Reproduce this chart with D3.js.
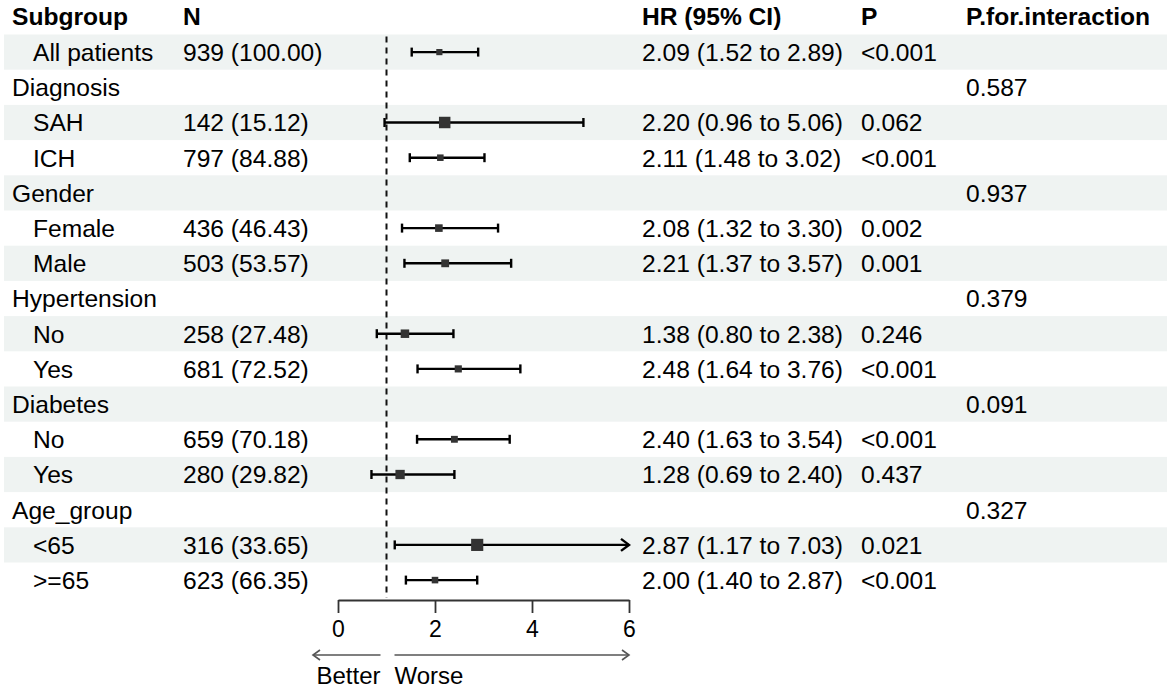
<!DOCTYPE html>
<html>
<head>
<meta charset="utf-8">
<script src="https://cdn.jsdelivr.net/npm/d3@7"></script>
<style>
  html, body { margin: 0; padding: 0; background: #fff; }
  svg { display: block; }
  text { font-family: "Liberation Sans", Arial, sans-serif; fill: #000; }
</style>
</head>
<body>
<svg id="chart" width="1170" height="688"></svg>
<script>
// ---- data ----
const headers = ["Subgroup", "N", "HR (95% CI)", "P", "P.for.interaction"];
const subgroups = ["All patients", "Diagnosis", "SAH", "ICH", "Gender", "Female", "Male",
  "Hypertension", "No", "Yes", "Diabetes", "No", "Yes", "Age_group", "<65", ">=65"];
const nLabels = ["939 (100.00)", "", "142 (15.12)", "797 (84.88)", "", "436 (46.43)", "503 (53.57)",
  "", "258 (27.48)", "681 (72.52)", "", "659 (70.18)", "280 (29.82)", "", "316 (33.65)", "623 (66.35)"];
const hr = [2.09, null, 2.20, 2.11, null, 2.08, 2.21, null, 1.38, 2.48, null, 2.40, 1.28, null, 2.87, 2.00];
const lo = [1.52, null, 0.96, 1.48, null, 1.32, 1.37, null, 0.80, 1.64, null, 1.63, 0.69, null, 1.17, 1.40];
const hi = [2.89, null, 5.06, 3.02, null, 3.30, 3.57, null, 2.38, 3.76, null, 3.54, 2.40, null, 7.03, 2.87];
const pValues = ["<0.001", "", "0.062", "<0.001", "", "0.002", "0.001", "", "0.246", "<0.001", "",
  "<0.001", "0.437", "", "0.021", "<0.001"];
const pInteraction = ["", "0.587", "", "", "0.937", "", "", "0.379", "", "", "0.091", "", "", "0.327", "", ""];
const xTicks = [0, 2, 4, 6];
const xDomain = [0, 6];
const refValue = 1;
const arrowLabels = ["Better", "Worse"];

// ---- layout ----
const FS = 24.6;
const svg = d3.select("#chart");
const rows = d3.range(subgroups.length);
const y = d3.scaleBand().domain(rows).range([34.5, 34.5 + 35.2 * rows.length]).paddingInner(0).paddingOuter(0);
const x = d3.scaleLinear().domain(xDomain).range([338, 629]);
const colX = { sub: 12, subIndent: 33, n: 183, hr: 642, p: 861, pint: 966 };
const baseline = cy => cy + 0.358 * FS;

// se-based box size
const se = rows.map(i => hr[i] == null ? null : (Math.log(hi[i]) - Math.log(lo[i])) / (2 * 1.96));
const boxSize = d3.scaleLinear().domain([0.18, 0.45]).range([6.5, 12]);

// background bands
svg.append("g").selectAll("rect").data(rows.filter(i => i % 2 === 0)).join("rect")
  .attr("x", 4).attr("width", 1163)
  .attr("y", i => y(i)).attr("height", y.bandwidth())
  .attr("fill", "#eff3f2");

// headers
const hdrX = [colX.sub, colX.n, colX.hr, colX.p, colX.pint];
svg.append("g").selectAll("text").data(headers).join("text")
  .attr("x", (d, i) => hdrX[i]).attr("y", baseline(16))
  .attr("font-size", FS).attr("font-weight", "bold").text(d => d);

// table text
const tg = svg.append("g").attr("font-size", FS);
rows.forEach(i => {
  const cy = y(i) + y.bandwidth() / 2;
  const by = baseline(cy);
  tg.append("text").attr("x", hr[i] == null ? colX.sub : colX.subIndent).attr("y", by).text(subgroups[i]);
  if (nLabels[i]) tg.append("text").attr("x", colX.n).attr("y", by).text(nLabels[i]);
  if (hr[i] != null) {
    tg.append("text").attr("x", colX.hr).attr("y", by)
      .text(`${hr[i].toFixed(2)} (${lo[i].toFixed(2)} to ${hi[i].toFixed(2)})`);
  }
  if (pValues[i]) tg.append("text").attr("x", colX.p).attr("y", by).text(pValues[i]);
  if (pInteraction[i]) tg.append("text").attr("x", colX.pint).attr("y", by).text(pInteraction[i]);
});

// reference dashed line
svg.append("line")
  .attr("x1", x(refValue)).attr("x2", x(refValue))
  .attr("y1", y(0) + 2).attr("y2", y(rows.length - 1) + y.bandwidth())
  .attr("stroke", "#111").attr("stroke-width", 2).attr("stroke-dasharray", "6,5");

// CIs
const cg = svg.append("g");
const LW = 2.4;
rows.filter(i => hr[i] != null).forEach(i => {
  const cy = y(i) + y.bandwidth() / 2;
  const x1 = x(Math.max(lo[i], xDomain[0]));
  const clipped = hi[i] > xDomain[1];
  const x2 = x(Math.min(hi[i], xDomain[1]));
  cg.append("line").attr("x1", x1).attr("x2", x2).attr("y1", cy).attr("y2", cy)
    .attr("stroke", "#000").attr("stroke-width", LW);
  cg.append("line").attr("x1", x1).attr("x2", x1).attr("y1", cy - 4.5).attr("y2", cy + 4.5)
    .attr("stroke", "#000").attr("stroke-width", LW);
  if (clipped) {
    cg.append("path").attr("d", `M${x2 - 8},${cy - 6}L${x2},${cy}L${x2 - 8},${cy + 6}`)
      .attr("fill", "none").attr("stroke", "#000").attr("stroke-width", LW);
  } else {
    cg.append("line").attr("x1", x2).attr("x2", x2).attr("y1", cy - 4.5).attr("y2", cy + 4.5)
      .attr("stroke", "#000").attr("stroke-width", LW);
  }
  const s = boxSize(se[i]);
  cg.append("rect").attr("x", x(hr[i]) - s / 2).attr("y", cy - s / 2)
    .attr("width", s).attr("height", s).attr("fill", "#333");
});

// x axis
const axisY = 600;
const ax = svg.append("g").attr("transform", `translate(0,${axisY})`)
  .call(d3.axisBottom(x).tickValues(xTicks).tickFormat(d3.format("d")).tickSize(13).tickSizeOuter(0).tickPadding(8));
ax.select(".domain").attr("stroke", "#333").attr("stroke-width", 1.8);
ax.selectAll(".tick line").attr("stroke", "#333").attr("stroke-width", 1.8);
ax.selectAll(".tick text").attr("font-size", 23).attr("font-family", "'Liberation Sans', Arial, sans-serif").attr("fill", "#000");

// direction arrows
const arrY = 655;
const ag = svg.append("g").attr("stroke", "#555").attr("stroke-width", 1.6).attr("fill", "none");
ag.append("line").attr("x1", 313).attr("x2", x(refValue) - 6).attr("y1", arrY).attr("y2", arrY);
ag.append("path").attr("d", `M${313 + 7},${arrY - 5}L313,${arrY}L${313 + 7},${arrY + 5}`);
ag.append("line").attr("x1", x(refValue) + 8).attr("x2", x(xDomain[1])).attr("y1", arrY).attr("y2", arrY);
ag.append("path").attr("d", `M${x(xDomain[1]) - 7},${arrY - 5}L${x(xDomain[1])},${arrY}L${x(xDomain[1]) - 7},${arrY + 5}`);
svg.append("text").attr("x", x(refValue) - 6).attr("y", 684).attr("text-anchor", "end")
  .attr("font-size", 24).text(arrowLabels[0]);
svg.append("text").attr("x", x(refValue) + 8).attr("y", 684).attr("text-anchor", "start")
  .attr("font-size", 24).text(arrowLabels[1]);
</script>
</body>
</html>
